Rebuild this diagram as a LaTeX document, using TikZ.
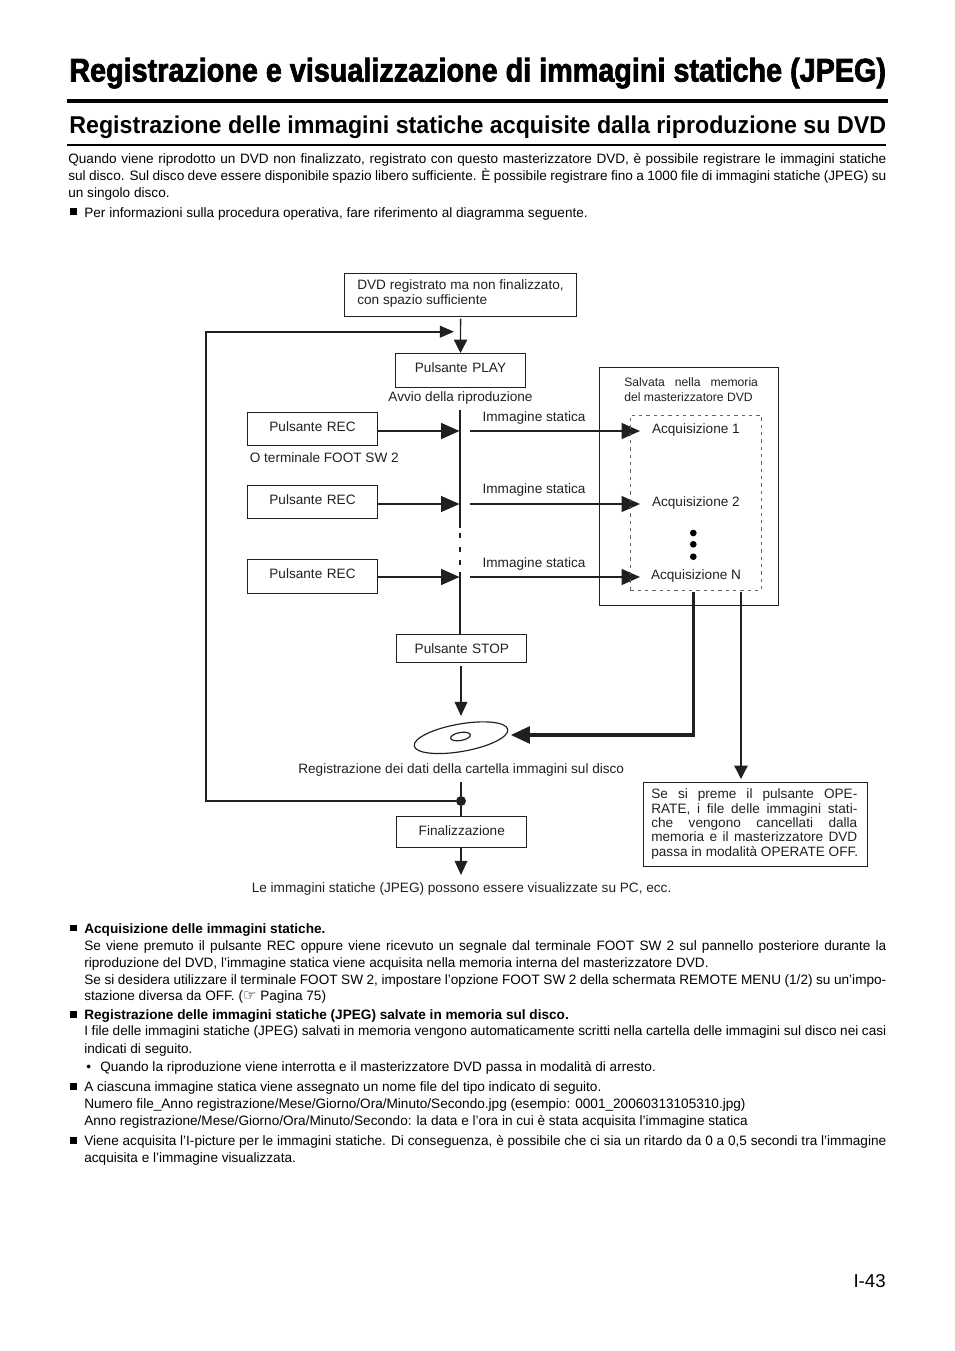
\documentclass[tikz,border=0pt]{standalone}
\usepackage{fontspec}
\setmainfont{Liberation Sans}
\newfontfamily\titlefont[BoldFeatures={FakeBold=2.4}]{Liberation Sans}
\newfontfamily\symfont{DejaVu Sans}
\usetikzlibrary{arrows.meta, shapes.geometric}
\definecolor{ink}{HTML}{231F20}
\newcommand{\jl}[2]{\makebox[#1][s]{#2}}
\tikzset{
    body/.style={anchor=base west, inner sep=0pt, font=\fontsize{8.16}{10}\selectfont},
    label/.style={anchor=base west, inner sep=0pt, text=ink, font=\fontsize{8.16}{10}\selectfont},
    labelc/.style={label, anchor=base},
    btn/.style={draw=ink, line width=0.6pt, anchor=base, inner ysep=0pt, inner xsep=0pt, text=ink,
        font=\fontsize{8.16}{10}\selectfont},
    square/.style={fill=black, inner sep=0pt, minimum size=4pt},
    thinarr/.style={draw=ink, line width=0.8pt, -{Triangle[length=8pt, width=8pt]}},
    downarr/.style={draw=ink, line width=0.95pt, -{Triangle[length=8.5pt, width=7.6pt]}},
    medarr/.style={draw=ink, line width=1pt, -{Triangle[length=11pt, width=9.5pt]}},
    fatarr/.style={draw=ink, line width=2.2pt, -{Triangle[length=11.5pt, width=10pt]}},
}
\begin{document}
\begin{tikzpicture}[x=0.6pt, y=-0.6pt]
    \useasboundingbox (0, 0) rectangle (954, 1351);
    % page heading
    \node[body] (title) at (69, 81.5) {\resizebox{490pt}{\height}{\titlefont\bfseries\fontsize{19.6}{21}\selectfont
        Registrazione e visualizzazione di immagini statiche (JPEG)}};
    \fill (67, 99) rectangle (888, 102.8);
    \node[body] (subtitle) at (69, 133.3) {\resizebox{490pt}{\height}{\bfseries\fontsize{14.6}{16}\selectfont
        Registrazione delle immagini statiche acquisite dalla riproduzione su DVD}};
    \fill (67, 144) rectangle (886, 145.7);
    % text above and below the diagram
    \foreach \x/\y/\t [count=\i] in {
        68/163/{\jl{490.8pt}{Quando viene riprodotto un DVD non finalizzato, registrato con questo masterizzatore DVD, è possibile registrare le immagini statiche}},
        68/180/{\jl{490.8pt}{sul disco. Sul disco deve essere disponibile spazio libero sufficiente. È possibile registrare fino a 1000 file di immagini statiche (JPEG) su}},
        68/197.3/{un singolo disco.},
        84/217.4/{Per informazioni sulla procedura operativa, fare riferimento al diagramma seguente.},
        84/933.5/{\bfseries Acquisizione delle immagini statiche.},
        84/950/{\jl{481.2pt}{Se viene premuto il pulsante REC oppure viene ricevuto un segnale dal terminale FOOT SW 2 sul pannello posteriore durante la}},
        84/967/{riproduzione del DVD, l’immagine statica viene acquisita nella memoria interna del masterizzatore DVD.},
        84/984/{\jl{481.2pt}{Se si desidera utilizzare il terminale FOOT SW 2, impostare l’opzione FOOT SW 2 della schermata REMOTE MENU (1/2) su un’impo-}},
        84/1000.5/{stazione diversa da OFF. ({\symfont\fontsize{9}{10}\selectfont ☞} Pagina 75)},
        84/1019.5/{\bfseries Registrazione delle immagini statiche (JPEG) salvate in memoria sul disco.},
        84/1035.7/{\jl{481.2pt}{I file delle immagini statiche (JPEG) salvati in memoria vengono automaticamente scritti nella cartella delle immagini sul disco nei casi}},
        84/1053.3/{indicati di seguito.},
        86/1071/{•},
        100/1071/{Quando la riproduzione viene interrotta e il masterizzatore DVD passa in modalità di arresto.},
        84/1091.5/{A ciascuna immagine statica viene assegnato un nome file del tipo indicato di seguito.},
        84/1108.5/{Numero file\_Anno registrazione/Mese/Giorno/Ora/Minuto/Secondo.jpg (esempio: 0001\_20060313105310.jpg)},
        84/1125/{Anno registrazione/Mese/Giorno/Ora/Minuto/Secondo: la data e l’ora in cui è stata acquisita l’immagine statica},
        84/1145/{\jl{481.2pt}{Viene acquisita l’I-picture per le immagini statiche. Di conseguenza, è possibile che ci sia un ritardo da 0 a 0,5 secondi tra l’immagine}},
        84/1162.5/{acquisita e l’immagine visualizzata.}}
        \node[body] (line\i) at (\x, \y) {\t};
    \foreach \y [count=\i] in {211.7, 928, 1014.5, 1086.5, 1140.5}
        \node[square] (sq\i) at (73.3, \y) {};
    \node[body, anchor=base east, font=\fontsize{11.2}{13}\selectfont] (pageno) at (886, 1287) {I-43};
    % start of the flow
    \node[draw=ink, line width=0.6pt, minimum width=139.3pt, minimum height=25.8pt, inner sep=0pt] (start) at (460.6, 295) {};
    \node[label] (start1) at (357, 289.3) {DVD registrato ma non finalizzato,};
    \node[label] (start2) at (357, 304) {con spazio sufficiente};
    \node[btn, text width=78pt, align=center, text height=11.1pt, text depth=9pt] (play) at (460.5, 372) {Pulsante PLAY};
    \node[labelc] (avvio) at (460.5, 401.3) {Avvio della riproduzione};
    \draw[thinarr, shorten <=1pt] (start.south) -- (play.north);
    % three captures
    \foreach \y/\b/\s [count=\i] in {431/431/1.05pt, 504/504/0.85pt, 577/578.3/1.05pt} {
        \node[btn, text width=78pt, align=center, text height=11.1pt, text depth=8.9pt] (rec\i) at (312.5, \b) {Pulsante REC};
        \coordinate (hit\i) at (459.5, \y);
        \coordinate (out\i) at (470, \y);
        \coordinate (tip\i) at (640, \y);
        \draw[medarr, line width=\s] (rec\i.east |- hit\i) -- (hit\i);
        \draw[medarr, line width=\s] (out\i) -- (tip\i);
    }
    \node[label] (foot) at (249.5, 462) {O terminale FOOT SW 2};
    \foreach \y [count=\i] in {421, 493.3, 567}
        \node[label] (img\i) at (482.3, \y) {Immagine statica};
    % memory box
    \node[draw=ink, line width=0.6pt, minimum width=107.4pt, minimum height=142.8pt, inner sep=0pt] (memory) at (688.8, 486.3) {};
    \node[draw=ink!70, line width=0.5pt, dash pattern=on 2pt off 2.4pt, minimum width=78.8pt, minimum height=104.8pt, inner sep=0pt] (area) at (696, 502.7) {};
    \node[label, font=\fontsize{7.3}{10}\selectfont] (saved1) at (624, 386) {\jl{80.2pt}{Salvata nella memoria}};
    \node[label, font=\fontsize{7.3}{10}\selectfont] (saved2) at (624, 401) {del masterizzatore DVD};
    \node[label] (acq1) at (651.7, 433.3) {Acquisizione 1};
    \node[label] (acq2) at (651.7, 506) {Acquisizione 2};
    \node[label] (acq3) at (650.7, 579) {Acquisizione N};
    \foreach \y [count=\i] in {533, 544.3, 556.7}
        \node[circle, fill=black, inner sep=0pt, minimum size=4pt] (dot\i) at (693.3, \y) {};
    % playback line
    \node[btn, text width=78pt, align=center, text height=11.4pt, text depth=5.4pt] (stop) at (461.8, 653.3) {Pulsante STOP};
    \coordinate (lineTop) at (460, 410);
    \coordinate (lineMid) at (460, 527.7);
    \coordinate (lineLow) at (460, 572);
    \draw[draw=ink, line width=1pt] (lineTop) -- (lineMid);
    \draw[draw=ink, line width=1pt] (lineLow) -- (lineLow |- stop.north);
    \foreach \y in {533, 547, 560}
        \draw[draw=ink, line width=1pt] (460, \y) -- (460, \y + 5);
    % disc
    \node[draw=ink, ellipse, line width=0.7pt, minimum width=57pt, minimum height=16.5pt, inner sep=0pt, rotate=10] (disc) at (461, 737.7) {};
    \node[draw=ink, ellipse, line width=0.7pt, minimum width=12pt, minimum height=4.8pt, inner sep=0pt, rotate=10] (hole) at (460.5, 736.5) {};
    \coordinate (discTop) at (461, 716);
    \coordinate (discSide) at (510.7, 735);
    \coordinate (outFat) at (693.5, 591.5);
    \coordinate (outThin) at (741, 591.5);
    \draw[downarr] (stop.south -| discTop) ++(0, 3) -- (discTop);
    \draw[fatarr] (outFat) |- (discSide);
    \node[label] (saveText) at (298, 773.4) {Registrazione dei dati della cartella immagini sul disco};
    % finalize and loop back
    \node[btn, text width=78pt, align=center, text height=11.2pt, text depth=7.4pt] (final) at (461.8, 835) {Finalizzazione};
    \node[circle, fill=ink, inner sep=0pt, minimum size=6pt] (join) at (461, 801) {};
    \coordinate (lineStub) at (461, 782);
    \coordinate (backTip) at (454, 331.7);
    \draw[draw=ink, line width=1pt] (lineStub) -- (join) -- (join |- final.north);
    \draw[draw=ink, line width=1.2pt, -{Triangle[length=8.5pt, width=7pt]}] (join) -| (206, 331.7) -- (backTip);
    \coordinate (endTip) at (461, 875);
    \draw[downarr] (final.south -| endTip) -- (endTip);
    \node[label] (view) at (251.5, 892.4) {Le immagini statiche (JPEG) possono essere visualizzate su PC, ecc.};
    % operate note
    \node[draw=ink, line width=0.6pt, minimum width=134.4pt, minimum height=50.4pt, inner sep=0pt] (note) at (755.3, 824.3) {};
    \coordinate (noteTip) at (741, 779);
    \draw[thinarr] (outThin) -- (noteTip);
    \foreach \y/\t [count=\i] in {
        798.4/{\jl{123.6pt}{Se si preme il pulsante OPE-}},
        813.4/{\jl{123.6pt}{RATE, i file delle immagini stati-}},
        827.4/{\jl{123.6pt}{che vengono cancellati dalla}},
        841.4/{\jl{123.6pt}{memoria e il masterizzatore DVD}},
        856.4/{passa in modalità OPERATE OFF.}}
        \node[label] (noteline\i) at (651, \y) {\t};
\end{tikzpicture}
\end{document}
